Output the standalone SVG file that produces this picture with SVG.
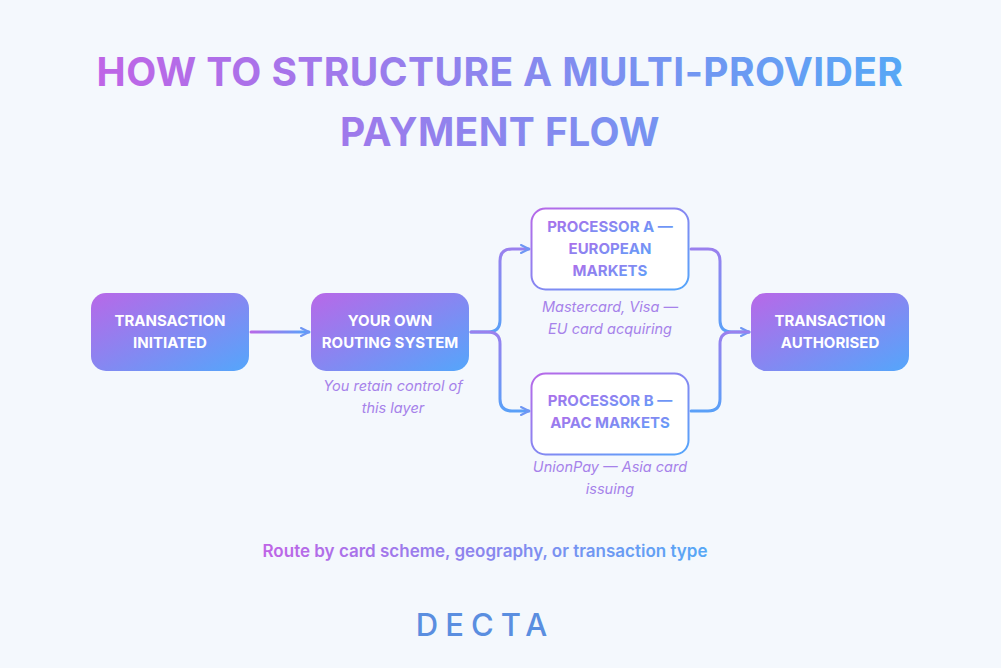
<svg xmlns="http://www.w3.org/2000/svg" width="1001" height="668" viewBox="0 0 1001 668">
<defs>
<linearGradient id="g" x1="0" y1="0" x2="1" y2="1"><stop offset="0" stop-color="#b868e8"/><stop offset="1" stop-color="#54a6fb"/></linearGradient>
<linearGradient id="gh" gradientUnits="userSpaceOnUse" x1="251" y1="0" x2="309" y2="0"><stop offset="0" stop-color="#b868e8"/><stop offset="1" stop-color="#54a6fb"/></linearGradient>
<linearGradient id="gt" gradientUnits="userSpaceOnUse" x1="90" y1="0" x2="910" y2="0"><stop offset="0" stop-color="#c064e6"/><stop offset="1" stop-color="#55a8f6"/></linearGradient>
<linearGradient id="gs" gradientUnits="userSpaceOnUse" x1="258" y1="0" x2="712" y2="0"><stop offset="0" stop-color="#c064e6"/><stop offset="1" stop-color="#55a8f6"/></linearGradient>
<linearGradient id="gv" x1="0" y1="0" x2="0" y2="1"><stop offset="0" stop-color="#9a80ee"/><stop offset="1" stop-color="#5aa0f8"/></linearGradient>
<marker id="ah" viewBox="0 0 10 10" refX="9" refY="5" markerWidth="10" markerHeight="10" markerUnits="userSpaceOnUse" orient="auto"><path d="M1 1L9 5L1 9" fill="none" stroke="#6e96f4" stroke-width="2" stroke-linecap="round" stroke-linejoin="round"/></marker>
</defs>
<style>
.t{font-family:Inter,"Noto Sans",sans-serif;font-weight:700;fill:#fff;font-size:15px;text-anchor:middle}
.p{font-family:Inter,"Noto Sans",sans-serif;font-weight:700;fill:url(#g);font-size:15px;text-anchor:middle}
.n{font-family:Inter,"Noto Sans",sans-serif;font-style:italic;font-size:14.5px;fill:#a682ea;text-anchor:middle}
.c{fill:none;stroke-width:3;stroke-linecap:round;stroke-linejoin:round}
</style>
<rect width="1001" height="668" fill="#f4f8fd"/>
<text x="500" y="86" font-family="Inter,'Noto Sans',sans-serif" font-weight="700" font-size="39" fill="url(#gt)" text-anchor="middle" letter-spacing="0.4">HOW TO STRUCTURE A MULTI-PROVIDER</text>
<text x="500" y="146" font-family="Inter,'Noto Sans',sans-serif" font-weight="700" font-size="39" fill="url(#gt)" text-anchor="middle" letter-spacing="0.4">PAYMENT FLOW</text>
<g id="connectors">
<path class="c" stroke="url(#gh)" d="M251 332H309" marker-end="url(#ah)"/>
<path class="c" stroke="url(#gv)" d="M471 332H488Q500 332 500 320V261Q500 249 512 249H529" marker-end="url(#ah)"/>
<path class="c" stroke="url(#gv)" d="M471 332H488Q500 332 500 344V399Q500 411 512 411H529" marker-end="url(#ah)"/>
<path class="c" stroke="url(#gv)" d="M691 249H708Q720 249 720 261V320Q720 332 732 332H749" marker-end="url(#ah)"/>
<path class="c" stroke="url(#gv)" d="M691 411H708Q720 411 720 399V344Q720 332 732 332H749"/>
</g>
<g id="n1"><rect x="91" y="293" width="158" height="78" rx="15" fill="url(#g)"/><text class="t" x="170" y="326">TRANSACTION</text><text class="t" x="170" y="348">INITIATED</text></g>
<g id="n2"><rect x="311" y="293" width="158" height="78" rx="15" fill="url(#g)"/><text class="t" x="390" y="326">YOUR OWN</text><text class="t" x="390" y="348">ROUTING SYSTEM</text><text class="n" x="393" y="391">You retain control of</text><text class="n" x="393" y="413">this layer</text></g>
<g id="n3"><rect x="531.5" y="208.5" width="157" height="81" rx="14" fill="#fff" stroke="url(#g)" stroke-width="2"/><text class="p" x="610" y="232">PROCESSOR A —</text><text class="p" x="610" y="254">EUROPEAN</text><text class="p" x="610" y="276">MARKETS</text><text class="n" x="610" y="312">Mastercard, Visa —</text><text class="n" x="610" y="334">EU card acquiring</text></g>
<g id="n4"><rect x="531.5" y="373.5" width="157" height="81" rx="14" fill="#fff" stroke="url(#g)" stroke-width="2"/><text class="p" x="610" y="406">PROCESSOR B —</text><text class="p" x="610" y="428">APAC MARKETS</text><text class="n" x="610" y="472">UnionPay — Asia card</text><text class="n" x="610" y="494">issuing</text></g>
<g id="n5"><rect x="751" y="293" width="158" height="78" rx="15" fill="url(#g)"/><text class="t" x="830" y="326">TRANSACTION</text><text class="t" x="830" y="348">AUTHORISED</text></g>
<text x="485" y="557" font-family="Inter,'Noto Sans',sans-serif" font-weight="600" font-size="17" fill="url(#gs)" text-anchor="middle">Route by card scheme, geography, or transaction type</text>
<text x="485" y="636" font-family="Inter,'Noto Sans',sans-serif" font-weight="500" font-size="31" fill="#5a8ee0" text-anchor="middle" letter-spacing="7">DECTA</text>
</svg>
